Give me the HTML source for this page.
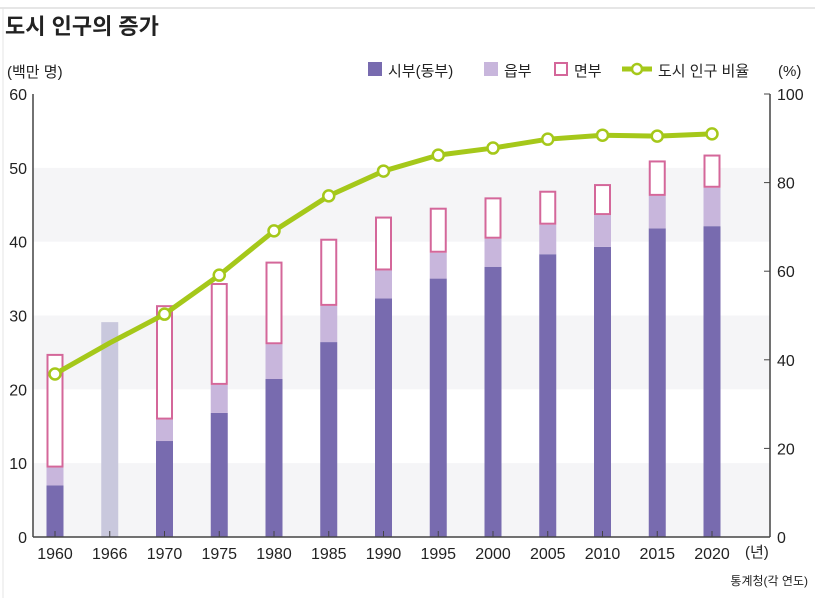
<!DOCTYPE html>
<html><head><meta charset="utf-8"><style>
body{margin:0;background:#fff;font-family:"Liberation Sans","Noto Sans CJK KR",sans-serif;}
svg text{font-family:"Liberation Sans","Noto Sans CJK KR",sans-serif;fill:#222;}
</style></head><body>
<svg id="chart" width="815" height="598">
<line x1="0" y1="8" x2="815" y2="8" stroke="#ccc"/>
<line x1="3" y1="8" x2="3" y2="598" stroke="#e4e4e4"/>
<text x="5" y="34" font-size="22" font-weight="bold">도시 인구의 증가</text>
<text x="7" y="77" font-size="15">(백만 명)</text>
<g>
<rect x="368" y="62" width="14" height="14" fill="#786baf"/>
<text x="388" y="76" font-size="15">시부(동부)</text>
<rect x="484" y="62" width="14" height="14" fill="#c8b6dc"/>
<text x="504" y="76" font-size="15">읍부</text>
<rect x="555" y="63" width="12" height="12" fill="none" stroke="#d4679a" stroke-width="2"/>
<text x="574" y="76" font-size="15">면부</text>
<line x1="622" y1="69" x2="652" y2="69" stroke="#a5c81a" stroke-width="5"/>
<circle cx="637" cy="69" r="5" fill="#fff" stroke="#a5c81a" stroke-width="2.5"/>
<text x="658" y="76" font-size="15">도시 인구 비율</text>
<text x="778" y="76" font-size="15">(%)</text>
</g>
<g id="bands"></g><g id="bars"></g><g id="axes"></g><g id="line"></g>
<text x="745" y="557" font-size="15">(년)</text>
<text x="808" y="585" font-size="12" text-anchor="end">통계청(각 연도)</text>
</svg>
<script>
const years=["1960","1966","1970","1975","1980","1985","1990","1995","2000","2005","2010","2015","2020"];
const siBu=[7.0,null,13.0,16.8,21.4,26.4,32.3,35.0,36.6,38.3,39.3,41.8,42.1];
const eupBu=[2.4,null,2.9,3.8,4.7,4.9,3.8,3.5,3.8,4.0,4.3,4.4,5.2];
const myeonBu=[15.4,null,15.5,13.8,11.2,9.1,7.3,6.1,5.6,4.6,4.2,4.8,4.5];
const total1966=[29.1];
const urbanRatio=[36.8,43.8,50.3,59.1,69.1,77.0,82.6,86.2,87.8,89.8,90.7,90.5,91.0];
const leftTicks=[0,10,20,30,40,50,60];
const rightTicks=[0,20,40,60,80,100];

const NS="http://www.w3.org/2000/svg";
const X0=33,X1=770,Y0=537,Y1=94;
const yL=v=>Y0-(v/60)*(Y0-Y1);
const yR=v=>Y0-(v/100)*(Y0-Y1);
const xC=i=>55+i*54.75;
function mk(tag,attrs,parent,text){const e=document.createElementNS(NS,tag);for(const k in attrs)e.setAttribute(k,attrs[k]);if(text!=null)e.textContent=text;document.getElementById(parent).appendChild(e);return e;}

[0,20,40].forEach(v=>{
 const b=mk('rect',{x:X0,y:yL(v+10),width:X1-X0,height:yL(v)-yL(v+10),fill:'#f5f5f7'},'bands');
 
 
});
const BW=17;
years.forEach((yr,i)=>{
 const x=xC(i)-BW/2;
 if(siBu[i]==null){
  const r=mk('rect',{x:x,y:yL(total1966[0]),width:BW,height:Y0-yL(total1966[0]),fill:'#c9c8dd'},'bars');
  
  
  return;
 }
 const a=siBu[i],b=a+eupBu[i],c=b+myeonBu[i];
 const r1=mk('rect',{x:x,y:yL(a),width:BW,height:Y0-yL(a),fill:'#786baf'},'bars');
 
 
 const r2=mk('rect',{x:x,y:yL(b),width:BW,height:yL(a)-yL(b),fill:'#c8b6dc'},'bars');
 
 
 const r3=mk('rect',{x:x+1,y:yL(c)+1,width:BW-2,height:yL(b)-yL(c)-2,fill:'#fff',stroke:'#d4679a','stroke-width':2},'bars');
 
 
});
// axes
const ax=mk('line',{x1:X0,y1:Y1,x2:X0,y2:Y0,stroke:'#444','stroke-width':1.5},'axes');


const ax2=mk('line',{x1:X1,y1:Y1,x2:X1,y2:Y0,stroke:'#444','stroke-width':1.5},'axes');


const ax3=mk('line',{x1:X0,y1:Y0,x2:X1,y2:Y0,stroke:'#444','stroke-width':1.5},'axes');


leftTicks.forEach(v=>{
 const t=mk('text',{x:27,y:yL(v)+6,'font-size':16,'text-anchor':'end'},'axes',v);
 
 
});
rightTicks.forEach(v=>{
 const l=mk('line',{x1:X1-6,y1:yR(v),x2:X1,y2:yR(v),stroke:'#444'},'axes');
 
 
 const t=mk('text',{x:777,y:yR(v)+6,'font-size':16},'axes',v);
 
 
});
years.forEach((yr,i)=>{
 const l=mk('line',{x1:xC(i),y1:Y0-6,x2:xC(i),y2:Y0,stroke:'#444'},'axes');
 
 
 const t=mk('text',{x:xC(i),y:559,'font-size':16,'text-anchor':'middle'},'axes',yr);
 
 
});
const pts=urbanRatio.map((v,i)=>xC(i)+','+yR(v)).join(' ');
const pl=mk('polyline',{points:pts,fill:'none',stroke:'#a5c81a','stroke-width':5,'stroke-linejoin':'round'},'line');


urbanRatio.forEach((v,i)=>{
 if(i===1)return;
 const c=mk('circle',{cx:xC(i),cy:yR(v),r:5.5,fill:'#fff',stroke:'#a5c81a','stroke-width':2.5},'line');
 
 
});
</script>
</body></html>
